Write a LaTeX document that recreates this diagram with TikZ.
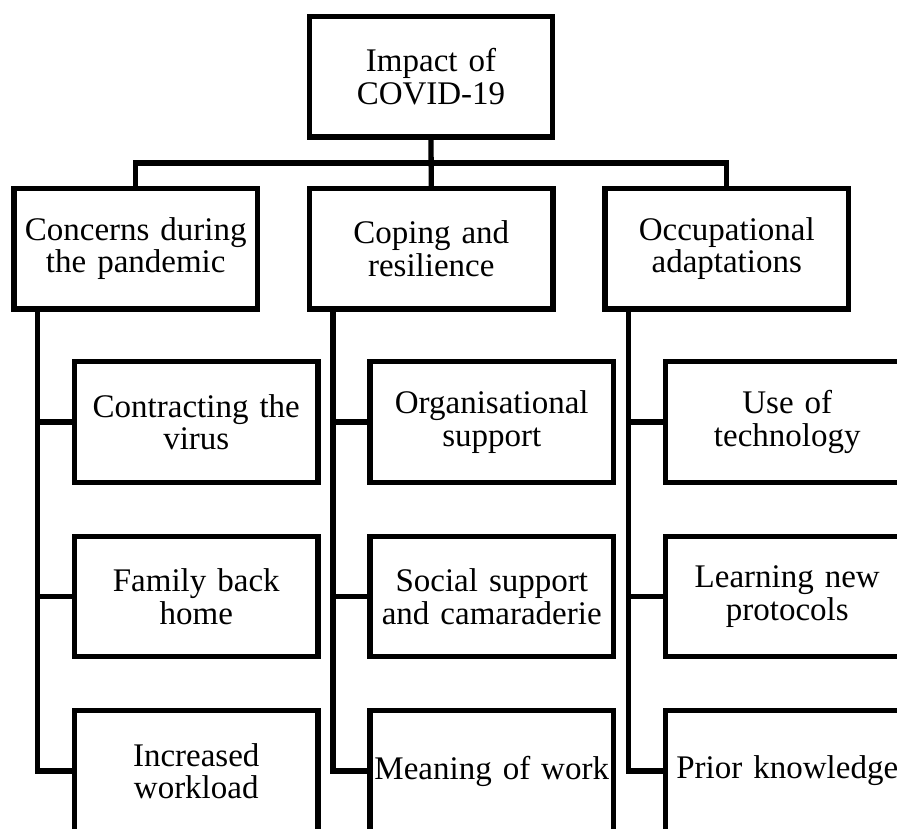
\documentclass[tikz,border=0pt]{standalone}
\usepackage{fontspec}
\setmainfont{Liberation Serif}
\tikzset{
  box/.style={draw, line width=5.3pt, minimum width=243.5pt, minimum height=120.5pt,
    inner sep=0pt, text width=238pt, align=center, font=\fontsize{33}{32.5}\selectfont},
  link/.style={line width=5.3pt}
}
\begin{document}
\begin{tikzpicture}[x=1pt, y=-1pt]

 % frame
 \useasboundingbox (0,0) rectangle (897,828);
 \clip (0,0) rectangle (897,828);

 % top level
 \node[box] (impact) at (431,76.75) {Impact of\\COVID-19};

 % themes
 \node[box] (concerns) at (135.75,248.75) {Concerns during\\the pandemic};
 \node[box] (coping) at (431.25,248.75) {Coping and\\resilience};
 \node[box] (occup) at (726.75,248.75) {Occupational\\adaptations};

 % subthemes
 \node[box] (virus) at (196.25,422) {Contracting the\\virus};
 \node[box] (family) at (196.25,596.5) {Family back\\home};
 \node[box] (workload) at (196.25,771) {Increased\\workload};

 \node[box] (orgsupport) at (491.75,422) {Organisational\\support};
 \node[box] (socsupport) at (491.75,596.5) {Social support\\and camaraderie};
 \node[box] (meaning) at (491.75,771) {Meaning of work};

 \node[box] (technology) at (787.25,422) {Use of\\technology};
 \node[box] (protocols) at (787.25,596.5) {Learning new\\protocols};
 \node[box] (knowledge) at (787.25,771) {Prior knowledge};

 % top connectors
 \coordinate (bus) at (431,163);
 \draw[link] (impact.south) -- (coping.north);
 \draw[link] (concerns.north) |- (bus) -| (occup.north);

 % spines
 \coordinate (cspine) at ([xshift=-98.25pt]concerns.south);
 \coordinate (rspine) at ([xshift=-98.25pt]coping.south);
 \coordinate (ospine) at ([xshift=-98.25pt]occup.south);

 \draw[link] (cspine) |- (workload.west);
 \draw[link] (virus.west) -- (virus.west -| cspine);
 \draw[link] (family.west) -- (family.west -| cspine);

 \draw[link] (rspine) |- (meaning.west);
 \draw[link] (orgsupport.west) -- (orgsupport.west -| rspine);
 \draw[link] (socsupport.west) -- (socsupport.west -| rspine);

 \draw[link] (ospine) |- (knowledge.west);
 \draw[link] (technology.west) -- (technology.west -| ospine);
 \draw[link] (protocols.west) -- (protocols.west -| ospine);

\end{tikzpicture}
\end{document}
